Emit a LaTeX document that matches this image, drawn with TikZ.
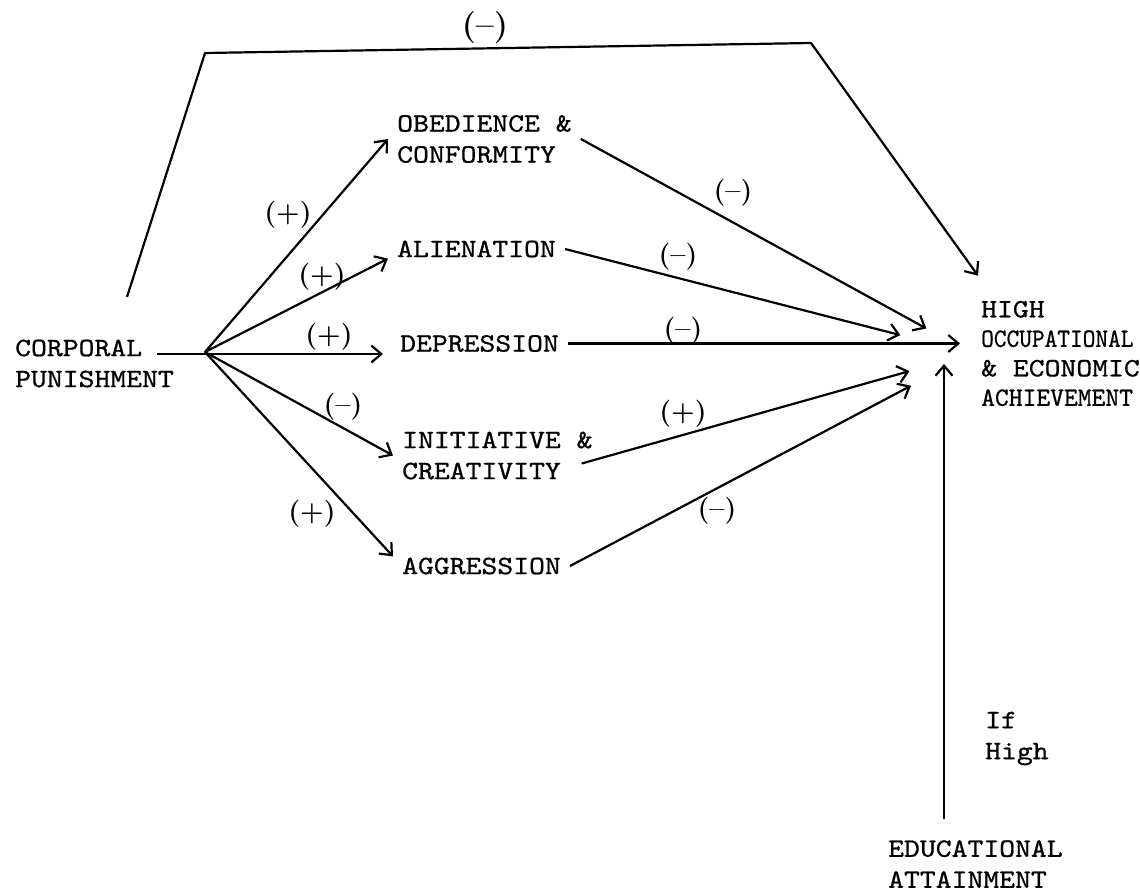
\documentclass[tikz,border=0pt]{standalone}
\usepackage{fontspec}
\setmonofont{lmmono10-regular.otf}[FakeStretch=1.14, FakeBold=0.8]
\usetikzlibrary{arrows.meta}

\tikzset{
    box/.style={font=\ttfamily\fontsize{26.5}{31}\selectfont, align=left, inner xsep=9pt, inner ysep=1pt, anchor=west},
    sgn/.style={font=\bfseries\fontsize{27}{27}\selectfont, inner sep=0pt},
    lnk/.style={->, line width=2.2pt, line join=round}
}

\begin{document}
\begin{tikzpicture}[x=1pt, y=-1pt, >={Straight Barb[length=10pt,width=17pt]}]
    \useasboundingbox (0,0) rectangle (1140,892);

    \node[box] (corp) at (6,363.5) {CORPORAL\\PUNISHMENT};
    \node[box] (obed) at (388,139) {OBEDIENCE \&\\CONFORMITY};
    \node[box] (alien) at (388,249) {ALIENATION};
    \node[box] (depr) at (391,343.5) {DEPRESSION};
    \node[box] (init) at (393,455.5) {INITIATIVE \&\\CREATIVITY};
    \node[box] (aggr) at (393,566) {AGGRESSION};
    \node[box, font=\ttfamily\fontsize{26.5}{29.5}\selectfont] (high) at (972,353.5)
        {HIGH\\\scalebox{0.8}[1]{OCCUPATIONAL}\\\& ECONOMIC\\\scalebox{0.87}[1]{ACHIEVEMENT}};
    \node[box] (ifh) at (976,738.5) {If\\High};
    \node[box] (educ) at (879,864) {EDUCATIONAL\\ATTAINMENT};

    \coordinate (hub) at (205,352);
    \coordinate (cpL) at (157,354);
    \coordinate (fbS) at (127,297);
    \coordinate (fbL) at (205,53);
    \coordinate (fbR) at (811,43);
    \coordinate (eduIn) at (944,364);

    \draw[lnk] (fbS) -- (fbL) -- (fbR) -- ([xshift=6pt,yshift=24pt]high.north west);
    \draw[lnk, shorten >=8pt] (cpL) -- (cpL -| depr.west);
    \draw[lnk] (hub) -- (obed.west);
    \draw[lnk] (hub) -- (alien.south west);
    \draw[lnk] (hub) -- (init.west);
    \draw[lnk] (hub) -- (aggr.north west);
    \draw[lnk, shorten >=52pt] (obed.east) -- (high.west);
    \draw[lnk, shorten >=74pt] (alien.east) -- (high.west);
    \draw[lnk, shorten >=12pt] (depr.east) -- (depr.east -| high.west);
    \draw[lnk, shorten >=65pt] ([xshift=-20pt,yshift=-8pt]init.east) -- (high.west);
    \draw[lnk, shorten >=69pt] (aggr.east) -- (high.west);
    \draw[lnk, shorten <=20pt] (educ.north -| eduIn) -- (eduIn);

    \node[sgn, font=\bfseries\fontsize{32}{32}\selectfont] (sTop) at (485,28) {(--)};
    \node[sgn] (sObIn) at (288,215) {(+)};
    \node[sgn] (sAlIn) at (322,277) {(+)};
    \node[sgn] (sDeIn) at (329,337) {(+)};
    \node[sgn] (sInIn) at (343,407) {(--)};
    \node[sgn] (sAgIn) at (312,514) {(+)};
    \node[sgn] (sObOut) at (733,193) {(--)};
    \node[sgn] (sAlOut) at (678,257) {(--)};
    \node[sgn] (sDeOut) at (683,331) {(--)};
    \node[sgn] (sInOut) at (683,414) {(+)};
    \node[sgn] (sAgOut) at (717,511) {(--)};
\end{tikzpicture}
\end{document}
